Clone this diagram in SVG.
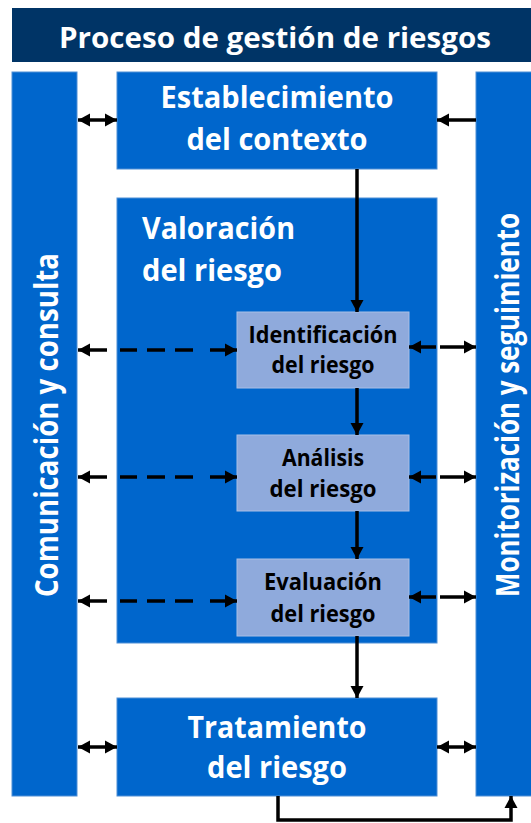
<svg xmlns="http://www.w3.org/2000/svg" width="531" height="823" viewBox="0 0 531 823">
<style>
.blue{fill:#0066CC;stroke:#4F8FD6;stroke-width:1}
.light{fill:#8FAADC;stroke:#A9BFE6;stroke-width:1}
.wt{fill:#FFFFFF;font-family:"Open Sans",Lato,sans-serif;font-weight:bold}
.bt{fill:#000000;font-family:"Open Sans",Lato,sans-serif;font-weight:bold}
.big{font-size:30px}
.small{font-size:23px}
.ln{stroke:#000;stroke-width:3.5;fill:none}
</style>
<defs>
<marker id="ah" markerUnits="userSpaceOnUse" markerWidth="14" markerHeight="14" refX="12" refY="7" orient="auto-start-reverse" viewBox="0 0 14 14">
<path d="M0,0.5 L12,7 L0,13.5 z" fill="#000"/>
</marker>
</defs>
<g id="title">
<rect x="12" y="8" width="519" height="54" fill="#003466"/>
<text class="wt" x="275" y="48" font-size="29" text-anchor="middle" textLength="432" lengthAdjust="spacingAndGlyphs">Proceso de gestión de riesgos</text>
</g>
<g id="comunicacion">
<rect class="blue" x="12" y="72" width="65" height="724"/>
<text class="wt" font-size="32" transform="translate(58,425) rotate(-90)" text-anchor="middle" textLength="344" lengthAdjust="spacingAndGlyphs">Comunicación y consulta</text>
</g>
<g id="monitorizacion">
<rect class="blue" x="476" y="72" width="60" height="724"/>
<text class="wt" font-size="32" transform="translate(519,405) rotate(-90)" text-anchor="middle" textLength="384" lengthAdjust="spacingAndGlyphs">Monitorización y seguimiento</text>
</g>
<g id="establecimiento">
<rect class="blue" x="117" y="72" width="320" height="97"/>
<text class="wt big" x="277" y="108" text-anchor="middle" textLength="233" lengthAdjust="spacingAndGlyphs">Establecimiento</text>
<text class="wt big" x="277" y="150" text-anchor="middle" textLength="181" lengthAdjust="spacingAndGlyphs">del contexto</text>
</g>
<g id="valoracion">
<rect class="blue" x="117" y="198" width="320" height="445"/>
<text class="wt big" x="142" y="239" textLength="153" lengthAdjust="spacingAndGlyphs">Valoración</text>
<text class="wt big" x="142" y="281" textLength="140" lengthAdjust="spacingAndGlyphs">del riesgo</text>
</g>
<g id="identificacion">
<rect class="light" x="237" y="312" width="172" height="76"/>
<text class="bt small" x="323" y="343" text-anchor="middle" textLength="149" lengthAdjust="spacingAndGlyphs">Identificación</text>
<text class="bt small" x="323" y="373" text-anchor="middle" textLength="103" lengthAdjust="spacingAndGlyphs">del riesgo</text>
</g>
<g id="analisis">
<rect class="light" x="237" y="435" width="172" height="76"/>
<text class="bt small" x="323" y="466" text-anchor="middle" textLength="82" lengthAdjust="spacingAndGlyphs">Análisis</text>
<text class="bt small" x="323" y="497" text-anchor="middle" textLength="107" lengthAdjust="spacingAndGlyphs">del riesgo</text>
</g>
<g id="evaluacion">
<rect class="light" x="237" y="559" width="172" height="77"/>
<text class="bt small" x="323" y="590" text-anchor="middle" textLength="118" lengthAdjust="spacingAndGlyphs">Evaluación</text>
<text class="bt small" x="323" y="622" text-anchor="middle" textLength="105" lengthAdjust="spacingAndGlyphs">del riesgo</text>
</g>
<g id="tratamiento">
<rect class="blue" x="117" y="698" width="320" height="98"/>
<text class="wt big" x="277" y="738" text-anchor="middle" textLength="179" lengthAdjust="spacingAndGlyphs">Tratamiento</text>
<text class="wt big" x="277" y="778" text-anchor="middle" textLength="140" lengthAdjust="spacingAndGlyphs">del riesgo</text>
</g>
<g id="connectors">
<path class="ln" d="M357,169 V312" marker-end="url(#ah)"/>
<path class="ln" d="M357,388 V435" marker-end="url(#ah)"/>
<path class="ln" d="M357,511 V559" marker-end="url(#ah)"/>
<path class="ln" d="M357,636 V698" marker-end="url(#ah)"/>
<path class="ln" d="M278,796 V820 H511 V796" marker-end="url(#ah)"/>
<path class="ln" d="M78,120 H117" marker-start="url(#ah)" marker-end="url(#ah)"/>
<path class="ln" d="M476,120 H437" marker-end="url(#ah)"/>
<path class="ln" d="M78,747 H117" marker-start="url(#ah)" marker-end="url(#ah)"/>
<path class="ln" d="M437,747 H476" marker-start="url(#ah)" marker-end="url(#ah)"/>
<path class="ln" d="M78,350 H237" stroke-dasharray="29 13 17 10 18 10 18 17 27" marker-start="url(#ah)" marker-end="url(#ah)"/>
<path class="ln" d="M78,477 H237" stroke-dasharray="29 13 17 10 18 10 18 17 27" marker-start="url(#ah)" marker-end="url(#ah)"/>
<path class="ln" d="M78,601 H237" stroke-dasharray="29 13 17 10 18 10 18 17 27" marker-start="url(#ah)" marker-end="url(#ah)"/>
<path class="ln" d="M436,347 H409" marker-end="url(#ah)"/>
<path class="ln" d="M440,347 H476" marker-end="url(#ah)"/>
<path class="ln" d="M436,477 H409" marker-end="url(#ah)"/>
<path class="ln" d="M440,477 H476" marker-end="url(#ah)"/>
<path class="ln" d="M436,597 H409" marker-end="url(#ah)"/>
<path class="ln" d="M440,597 H476" marker-end="url(#ah)"/>
</g>
</svg>
